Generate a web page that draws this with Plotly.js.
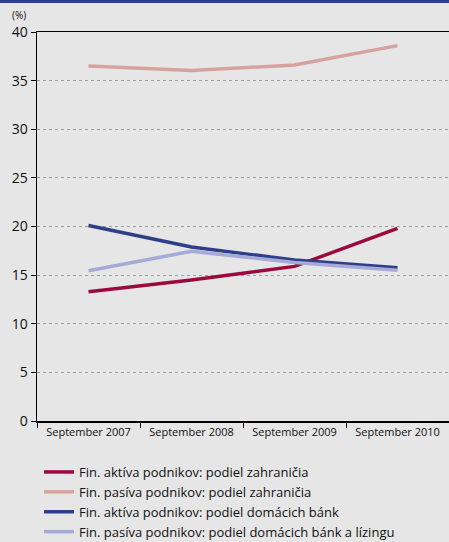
<!DOCTYPE html>
<html><head><meta charset="utf-8">
<script src="https://cdn.plot.ly/plotly-3.0.1.min.js"></script>
<style>
html,body{margin:0;padding:0;background:#e6e6e6;}
#top{position:absolute;left:0;top:0;width:449px;height:3px;background:#2e3f8a;z-index:5;}
#chart{width:449px;height:542px;}
</style></head>
<body>
<div id="top"></div>
<div id="chart"></div>
<script>
const categories = ["September 2007","September 2008","September 2009","September 2010"];
const seriesNames = [
  "Fin. aktíva podnikov: podiel zahraničia",
  "Fin. pasíva podnikov: podiel zahraničia",
  "Fin. aktíva podnikov: podiel domácich bánk",
  "Fin. pasíva podnikov: podiel domácich bánk a lízingu"
];
const aktivaZahranicie = [13.3, 14.5, 15.9, 19.8];
const pasivaZahranicie = [36.5, 36.05, 36.6, 38.6];
const aktivaBanky = [20.1, 17.9, 16.55, 15.75];
const pasivaBankyLizing = [15.45, 17.45, 16.3, 15.5];
const yTicks = [0,5,10,15,20,25,30,35,40];
const colors = ["#9b0a3f","#d5a29d","#2e3f8a","#a5aad6"];

const data = [aktivaZahranicie, pasivaZahranicie, aktivaBanky, pasivaBankyLizing].map((v,i)=>({
  x: categories, y: v, type:'scatter', mode:'lines', name: seriesNames[i],
  line:{color:colors[i], width:3.5}
}));

const L = 37, T = 32, W = 412, H = 389;
const layout = {
  width:449, height:542,
  paper_bgcolor:'#e6e6e6', plot_bgcolor:'#e6e6e6',
  margin:{l:L, r:0, t:T, b:121, autoexpand:false},
  font:{family:'"Open Sans", sans-serif', color:'#111'},
  showlegend:true,
  legend:{x:(39-L)/W, y:-(457-421)/H, xanchor:'left', yanchor:'top',
    font:{size:13, family:'"Open Sans", sans-serif', color:'#111'}, bgcolor:'rgba(0,0,0,0)',
    tracegroupgap:0, itemwidth:30},
  xaxis:{type:'category', range:[-0.5,3.5], showline:true, linecolor:'#000', linewidth:1.5, mirror:true,
    ticks:'outside', tickson:'boundaries', ticklen:5, tickcolor:'#000', showgrid:false, automargin:false,
    tickfont:{size:11, family:'"Open Sans", sans-serif'}, fixedrange:true},
  yaxis:{range:[0,40], tickvals:yTicks, ticktext:yTicks.map(String), showline:true, linecolor:'#000', linewidth:1.5,
    ticks:'outside', ticklen:5, tickcolor:'#000', showgrid:true, gridcolor:'#a0a0a0', griddash:'dot', gridwidth:1,
    zeroline:false, automargin:false, tickfont:{size:14, family:'"Open Sans", sans-serif'}, fixedrange:true},
  annotations:[{text:'(%)', xref:'paper', yref:'paper', x:(10-L)/W, y:1+(T-15)/H, xanchor:'left', yanchor:'middle',
    showarrow:false, font:{size:10, color:'#111'}}]
};
Plotly.newPlot('chart', data, layout, {displayModeBar:false, staticPlot:true});
</script>
</body></html>
